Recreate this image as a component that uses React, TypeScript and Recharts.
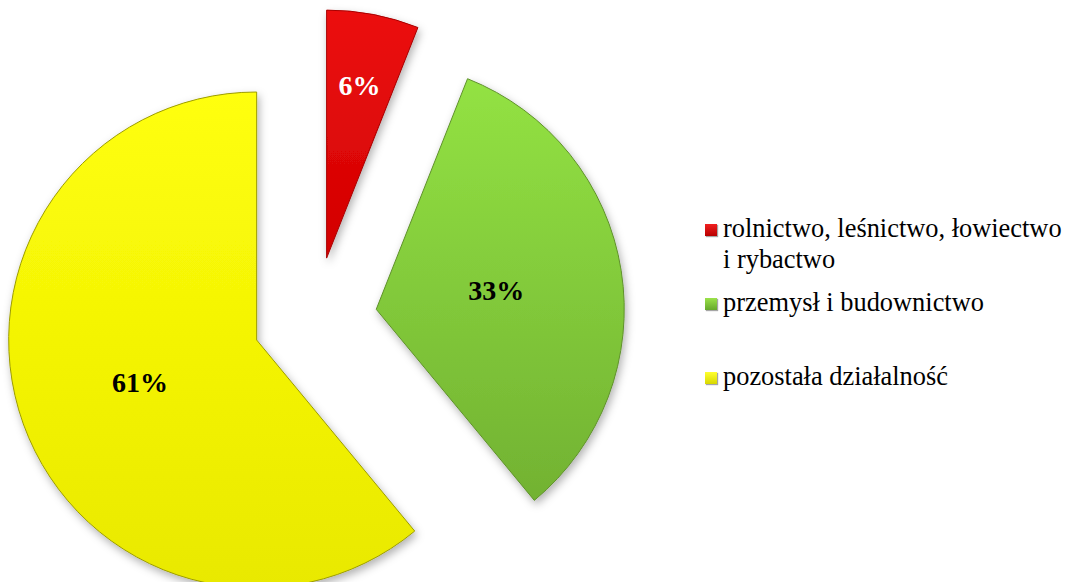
import { PieChart, Pie, Cell, Legend, Sector } from 'recharts'

const sectors = ['rolnictwo, leśnictwo, łowiectwo i rybactwo', 'przemysł i budownictwo', 'pozostała działalność']
const shares = [6, 33, 61]

const data = sectors.map((name, i) => ({ name, value: shares[i] }))

const gradientIds = ['gradRed', 'gradGreen', 'gradYellow']
const strokes = ['#a80000', '#5f912b', '#9c9c00']
const labelColors = ['#ffffff', '#000000', '#000000']
const markerColors = [
  'linear-gradient(#f02020, #b80000)',
  'linear-gradient(#9be24a, #66a82c)',
  'linear-gradient(#ffff30, #d8d800)',
]
// how far from the slice tip the percentage sits, as a share of the radius
const labelPos = [0.71, 0.49, 0.5]

const RAD = Math.PI / 180
const EXPLODE = 62
const SERIF = '"Liberation Serif", "Times New Roman", serif'

const ExplodedSlice = (props: any) => {
  const { cx, cy, midAngle } = props
  const dx = EXPLODE * Math.cos(-midAngle * RAD)
  const dy = EXPLODE * Math.sin(-midAngle * RAD)
  return (
    <g filter="url(#sliceShadow)">
      <Sector {...props} cx={cx + dx} cy={cy + dy} />
    </g>
  )
}

const renderLabel = (props: any) => {
  const { cx, cy, midAngle, outerRadius, percent, index } = props
  const r = EXPLODE + outerRadius * labelPos[index]
  const x = cx + r * Math.cos(-midAngle * RAD)
  const y = cy + r * Math.sin(-midAngle * RAD)
  return (
    <text
      x={x}
      y={y}
      fill={labelColors[index]}
      textAnchor="middle"
      dominantBaseline="central"
      style={{ fontFamily: SERIF, fontWeight: 700, fontSize: 28 }}
    >
      {`${Math.round(percent * 100)}%`}
    </text>
  )
}

const renderLegend = ({ payload }: any) => {
  const items = [...(payload || [])].sort((a: any, b: any) => sectors.indexOf(a.value) - sectors.indexOf(b.value))
  return (
    <div style={{ fontFamily: SERIF, fontSize: 26.4, lineHeight: '31px', color: '#000' }}>
      {items.map((entry: any) => {
        const i = sectors.indexOf(entry.value)
        return (
          <div key={`leg-${i}`} style={{ display: 'flex', alignItems: 'flex-start', height: 74 }}>
            <span
              style={{
                display: 'inline-block',
                flex: 'none',
                width: 12,
                height: 12,
                marginTop: 11,
                marginRight: 6,
                background: markerColors[i],
                boxShadow: '1px 1px 1px rgba(0,0,0,0.35)',
              }}
            />
            <span style={{ width: 346 }}>{entry.value}</span>
          </div>
        )
      })}
    </div>
  )
}

export default function App() {
  return (
    <div style={{ position: 'absolute', left: 0, top: 0, width: 1067, height: 582, background: '#fff' }}>
      <PieChart width={1067} height={582} margin={{ top: 0, right: 0, bottom: 0, left: 0 }}>
        <defs>
          <linearGradient id="gradRed" x1="0" y1="0" x2="0" y2="1">
            <stop offset="0%" stopColor="#ec1010" />
            <stop offset="100%" stopColor="#d20000" />
          </linearGradient>
          <linearGradient id="gradGreen" x1="0" y1="0" x2="0" y2="1">
            <stop offset="0%" stopColor="#93e243" />
            <stop offset="100%" stopColor="#72b232" />
          </linearGradient>
          <linearGradient id="gradYellow" x1="0" y1="0" x2="0" y2="1">
            <stop offset="0%" stopColor="#ffff0a" />
            <stop offset="100%" stopColor="#e9e900" />
          </linearGradient>
          <filter id="sliceShadow" x="-20%" y="-20%" width="140%" height="140%">
            <feDropShadow dx="2" dy="4" stdDeviation="4" floodColor="#000" floodOpacity="0.3" />
          </filter>
        </defs>
        <Pie
          data={data}
          dataKey="value"
          nameKey="name"
          cx={315}
          cy={319}
          outerRadius={248}
          startAngle={90}
          endAngle={-270}
          isAnimationActive={false}
          labelLine={false}
          label={renderLabel}
          shape={ExplodedSlice}
          inactiveShape={ExplodedSlice}
          activeShape={ExplodedSlice}
        >
          {data.map((entry, i) => (
            <Cell key={`cell-${i}`} fill={`url(#${gradientIds[i]})`} stroke={strokes[i]} strokeWidth={1} />
          ))}
        </Pie>
        <Legend
          layout="vertical"
          align="right"
          verticalAlign="middle"
          itemSorter={(item: any) => sectors.indexOf(item.value)}
          content={renderLegend}
          wrapperStyle={{ left: 705, top: 213, width: 362 }}
        />
      </PieChart>
    </div>
  )
}
